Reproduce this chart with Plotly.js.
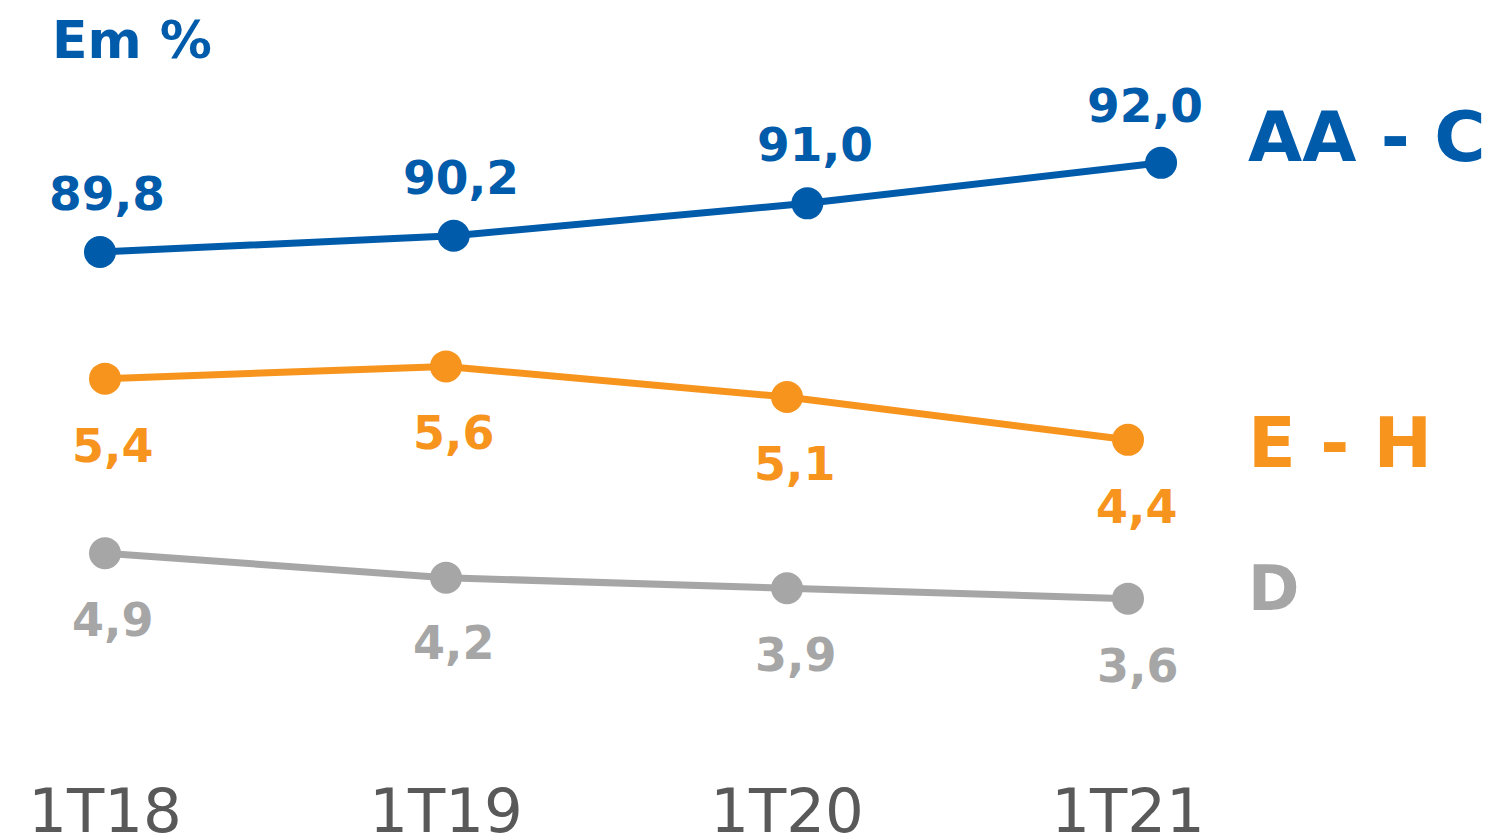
<!DOCTYPE html>
<html>
<head>
<meta charset="utf-8">
<script src="https://cdn.plot.ly/plotly-3.0.1.min.js"></script>
<style>html,body{margin:0;padding:0;background:#fff;}#chart{width:1503px;height:840px;}</style>
</head>
<body>
<div id="chart"></div>
<script>
const categories = ['1T18', '1T19', '1T20', '1T21'];
const seriesAAC = [89.8, 90.2, 91.0, 92.0];
const seriesEH = [5.4, 5.6, 5.1, 4.4];
const seriesD = [4.9, 4.2, 3.9, 3.6];
const seriesNames = ['AA - C', 'E - H', 'D'];
const unitLabel = 'Em %';

const BLUE = '#005BAA', ORANGE = '#F7941D', GRAY = '#A6A6A6';
const FONT = 'DejaVu Sans, Verdana, sans-serif';
const fmt = v => v.toFixed(1).replace('.', ',');
const PLOT_H = 770;

function lineTrace(y, color, xa, ya) {
  return {
    x: categories, y: y, xaxis: xa, yaxis: ya,
    type: 'scatter', mode: 'lines+markers',
    line: {color: color, width: 7},
    marker: {color: color, size: 32},
    hoverinfo: 'skip', showlegend: false, cliponaxis: false
  };
}

const traces = [
  lineTrace(seriesD, GRAY, 'x', 'y3'),
  lineTrace(seriesEH, ORANGE, 'x', 'y'),
  lineTrace(seriesAAC, BLUE, 'x2', 'y2')
];

const annotations = [];
function valueLabels(vals, color, xref, yref, shifts, size) {
  vals.forEach((v, i) => {
    annotations.push({
      x: categories[i], y: v, xref: xref, yref: yref,
      text: fmt(v), showarrow: false,
      xshift: shifts[i][0], yshift: shifts[i][1],
      xanchor: 'center', yanchor: 'middle',
      font: {family: FONT, size: size, color: color, weight: 'bold'}
    });
  });
}
valueLabels(seriesAAC, BLUE, 'x2', 'y2', [[7, 58], [7, 58], [8, 59], [-16, 57]], 47);
valueLabels(seriesEH, ORANGE, 'x', 'y', [[8, -67], [8, -67], [8, -67], [9, -67]], 46);
valueLabels(seriesD, GRAY, 'x', 'y3', [[8, -67], [8, -65], [9, -67], [10, -67]], 46);

const nameLabels = [
  {text: seriesNames[0], color: BLUE, y: 137, size: 70},
  {text: seriesNames[1], color: ORANGE, y: 443, size: 70},
  {text: seriesNames[2], color: GRAY, y: 588, size: 62}
];
nameLabels.forEach(n => {
  annotations.push({
    xref: 'paper', yref: 'paper', x: 1246 / 1503, y: 1 - n.y / PLOT_H,
    xanchor: 'left', yanchor: 'middle', showarrow: false,
    text: n.text,
    font: {family: FONT, size: n.size, color: n.color, weight: 'bold'}
  });
});

const hiddenY = {visible: false, showgrid: false, zeroline: false, fixedrange: true};

const layout = {
  width: 1503, height: 840,
  margin: {l: 0, r: 0, t: 0, b: 840 - PLOT_H},
  paper_bgcolor: '#ffffff', plot_bgcolor: '#ffffff',
  title: {
    text: unitLabel, xref: 'container', yref: 'container',
    x: 52 / 1503, xanchor: 'left', y: 1 - 40 / 840, yanchor: 'middle',
    font: {family: FONT, size: 52, color: BLUE, weight: 'bold'}
  },
  xaxis: {
    type: 'category', range: [-0.3079, 4.0997],
    showgrid: false, zeroline: false, showline: false, ticks: '',
    tickfont: {family: FONT, size: 61, color: '#595959'},
    fixedrange: true
  },
  xaxis2: {
    type: 'category', overlaying: 'x', range: [-0.2827, 3.9667],
    visible: false, showgrid: false, zeroline: false, fixedrange: true
  },
  yaxis: Object.assign({range: [-0.995, 11.587]}, hiddenY),
  yaxis2: Object.assign({range: [77.01, 96.02], overlaying: 'y'}, hiddenY),
  yaxis3: Object.assign({range: [-1.31, 20.755], overlaying: 'y'}, hiddenY),
  annotations: annotations,
  showlegend: false
};

Plotly.newPlot('chart', traces, layout, {displayModeBar: false, staticPlot: true});
</script>
</body>
</html>
